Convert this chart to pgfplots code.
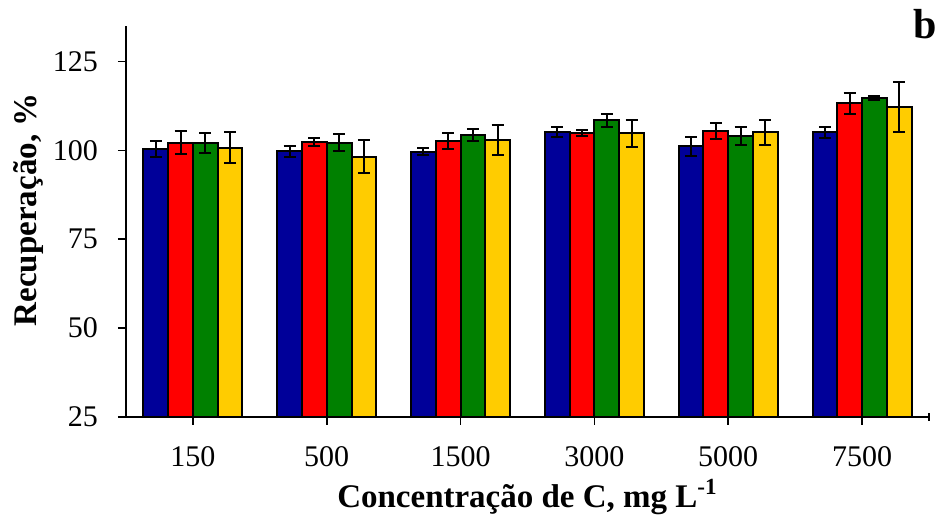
\documentclass[border=0pt]{standalone}
\usepackage{fontspec}
\setmainfont{Liberation Serif}
\usepackage{pgfplots}
\usepackage{pgfplotstable}
\pgfplotsset{compat=1.18}

\definecolor{cblue}{HTML}{000099}
\definecolor{cred}{HTML}{FF0000}
\definecolor{cgreen}{HTML}{008000}
\definecolor{cyellow}{HTML}{FFCC00}

% recuperacao (%) e desvio para cada concentracao
\pgfplotstableread{
x v1 e1 v2 e2 v3 e3 v4 e4
0 100.4 2.3 102.2 3.3 102.0 2.8 100.8 4.4
1 99.7 1.5 102.4 1.2 102.1 2.4 98.2 4.6
2 99.6 1.0 102.6 2.3 104.3 1.7 102.9 4.3
3 105.1 1.4 104.8 0.85 108.5 1.8 104.8 3.75
4 101.2 2.7 105.5 2.3 104.1 2.6 105.1 3.5
5 105.1 1.6 113.2 3.0 114.7 0.6 112.3 7.0
}\data

\begin{document}
\begin{tikzpicture}
\begin{axis}[
  scale only axis,
  width=401.5pt, height=195.5pt,
  xmin=-0.5, xmax=5.5,
  ymin=25, ymax=135,
  axis x line=bottom, axis y line=left,
  axis line style={-, line width=1pt, black},
  ybar=0pt, bar width=0.185,
  xtick={0,...,5},
  xticklabels={150,500,1500,3000,5000,7500},
  extra x ticks={5.5},
  extra x tick labels={},
  extra x tick style={tick align=center},
  ytick={25,50,75,100,125},
  tick align=outside,
  major tick length=4pt,
  tick style={black, line width=0.8pt},
  /pgf/number format/assume math mode=true,
  ticklabel style={font=\fontsize{15}{17}\selectfont},
  xticklabel style={yshift=-7pt},
  yticklabel style={xshift=-6.5pt},
  xlabel={Concentração de C, mg L\textsuperscript{-1}},
  ylabel={Recuperação, \%},
  every axis x label/.style={at={(axis description cs:0.5,0)}, yshift=-40pt, anchor=center,
    font=\fontsize{16.5}{19}\selectfont\bfseries},
  every axis y label/.style={at={(axis description cs:-0.122,0.53)}, rotate=90, anchor=center,
    font=\fontsize{16.5}{19}\selectfont\bfseries},
  every axis plot/.append style={draw=black, line width=1pt},
  error bars/error bar style={line width=1pt, black},
  error bars/error mark options={rotate=90, mark size=3pt, line width=1pt, black},
  clip=false,
]
\addplot[fill=cblue, error bars/.cd, y dir=both, y explicit] table[x=x, y=v1, y error=e1] {\data};
\addplot[fill=cred, error bars/.cd, y dir=both, y explicit] table[x=x, y=v2, y error=e2] {\data};
\addplot[fill=cgreen, error bars/.cd, y dir=both, y explicit] table[x=x, y=v3, y error=e3] {\data};
\addplot[fill=cyellow, error bars/.cd, y dir=both, y explicit] table[x=x, y=v4, y error=e4] {\data};
\node[anchor=base, font=\fontsize{21}{24}\selectfont\bfseries] at (rel axis cs:0.995,0.967) {b};
\coordinate (bl) at (rel axis cs:0,0);
\end{axis}
\pgfresetboundingbox
\path ([shift={(-63pt,-51pt)}]bl) rectangle ([shift={(406.5pt,208.5pt)}]bl);
\end{tikzpicture}
\end{document}
